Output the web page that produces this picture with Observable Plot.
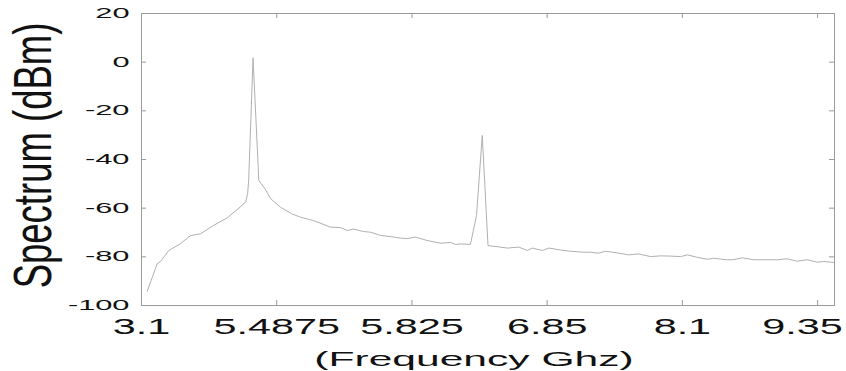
<!DOCTYPE html>
<html><head><meta charset="utf-8">
<script src="https://cdn.jsdelivr.net/npm/d3@7"></script>
<script src="https://cdn.jsdelivr.net/npm/@observablehq/plot@0.6"></script>
<style>body{margin:0;background:#fff;} svg{display:block;}</style>
</head><body><div id="chart"></div>
<script>
// Sample index along the sweep (ticks every 40 samples) and measured spectrum (dBm)
const sampleIndex = [1.7,3.2,4.6,5.6,8.1,11.5,14.5,17.5,21.3,25.4,28.3,30.8,31.4,31.7,33.0,34.7,36.7,38.2,41.1,44.4,47.0,50.9,55.9,58.9,60.9,62.7,65.7,67.8,70.7,73.7,76.6,78.6,81.1,84.5,88.5,91.4,92.9,94.4,97.3,99.1,100.8,102.5,106.2,108.2,111.6,114.1,115.6,118.6,120.5,124.0,126.9,130.8,132.8,135.2,137.3,140.8,144.1,147.0,150.6,153.6,156.5,159.5,161.5,164.4,167.4,169.2,173.3,175.1,177.7,181.1,185.1,188.1,191.0,194.0,196.9,199.9,201.8,204.7];
const spectrumDbm = [-94.1,-88.4,-82.9,-81.9,-77.4,-74.6,-71.3,-70.5,-67.1,-63.9,-60.6,-57.5,-54.0,-48.6,1.8,-48.6,-52.4,-56.1,-59.6,-62.3,-63.7,-65.1,-67.8,-68.0,-69.2,-68.6,-69.6,-69.9,-71.2,-71.7,-72.3,-72.5,-71.9,-73.3,-74.4,-74.1,-74.9,-74.7,-74.9,-63.0,-30.1,-75.4,-76.0,-76.4,-76.0,-77.4,-76.4,-77.4,-76.4,-77.2,-77.7,-78.1,-78.1,-78.5,-77.7,-78.4,-79.2,-78.8,-79.9,-79.6,-79.7,-79.9,-79.2,-80.2,-81.0,-80.6,-81.2,-81.2,-80.4,-81.2,-81.2,-81.2,-80.8,-81.8,-81.2,-82.2,-81.9,-82.3];
const xTickPositions = [0, 40, 80, 120, 160, 200];
const xTickLabels = ["3.1", "5.4875", "5.825", "6.85", "8.1", "9.35"];
const yTicks = [-100, -80, -60, -40, -20, 0, 20];
const yTickLabels = ["-100", "-80", "-60", "-40", "-20", "0", "20"];
const xTitle = "(Frequency Ghz)";
const yTitle = "Spectrum (dBm)";

const data = sampleIndex.map((s, i) => ({s, v: spectrumDbm[i]}));
const font = "'Liberation Sans', Arial, Helvetica, sans-serif";
const W = 846, H = 371, mL = 141, mR = 12, mT = 13, mB = 66;
const fw = W - mL - mR, fh = H - mT - mB, tk = 5;
const axisColor = "#9a9a9a";
const last = xTickPositions.length - 1;

const chart = Plot.plot({
  width: W, height: H,
  marginLeft: mL, marginRight: mR, marginTop: mT, marginBottom: mB,
  x: {domain: [0, 205], axis: null},
  y: {domain: [-100, 20], axis: null},
  style: {fontFamily: font, background: "#fff", color: "#111"},
  marks: [
    Plot.ruleX(xTickPositions, {x: d => d, stroke: axisColor, insetTop: fh - tk}),
    Plot.ruleX(xTickPositions, {x: d => d, stroke: axisColor, insetBottom: fh - tk}),
    Plot.ruleY(yTicks, {y: d => d, stroke: axisColor, insetRight: fw - tk}),
    Plot.ruleY(yTicks, {y: d => d, stroke: axisColor, insetLeft: fw - tk}),
    Plot.frame({stroke: axisColor, strokeWidth: 1}),
    Plot.line(data, {x: "s", y: "v", stroke: "#b0b0b0", strokeWidth: 1}),
    Plot.text(xTickPositions, {filter: (d, i) => i < last, x: d => d, text: (d, i) => xTickLabels[i],
      frameAnchor: "bottom", lineAnchor: "bottom", dy: 28, fontSize: 22, fill: "#111"}),
    Plot.text(xTickPositions, {filter: (d, i) => i === last, x: d => d, text: (d, i) => xTickLabels[i],
      frameAnchor: "bottom", lineAnchor: "bottom", dy: 28, dx: -15, fontSize: 22, fill: "#111"}),
    Plot.text(yTicks, {y: d => d, text: (d, i) => yTickLabels[i], frameAnchor: "left", textAnchor: "end",
      dx: -12, fontSize: 14, fill: "#111"}),
    Plot.text([xTitle], {text: d => d, frameAnchor: "bottom", textAnchor: "middle", lineAnchor: "bottom",
      dy: 60, dx: -14, fontSize: 20, fill: "#111"}),
    Plot.text([yTitle], {text: d => d, frameAnchor: "left", textAnchor: "middle", lineAnchor: "bottom",
      rotate: -90, dx: -91, dy: -4, fontSize: 36.5, fill: "#111"})
  ]
});

// The reference's lettering is stretched horizontally; reproduce that per text role.
function stretchOf(s) {
  if (s === yTitle) return [1, 1.45];
  if (s === xTitle) return [2.13, 1];
  if (yTickLabels.includes(s)) return [2.2, 1];
  if (xTickLabels.includes(s)) return [1.88, 1];
  return null;
}
d3.select(chart).selectAll("text").each(function () {
  const st = stretchOf(this.textContent);
  if (!st) return;
  const t = this.getAttribute("transform") || "";
  const x = +this.getAttribute("x") || 0, y = +this.getAttribute("y") || 0;
  this.setAttribute("transform", `${t} translate(${x},${y}) scale(${st[0]},${st[1]}) translate(${-x},${-y})`);
});
document.getElementById("chart").appendChild(chart);
</script>
</body></html>
